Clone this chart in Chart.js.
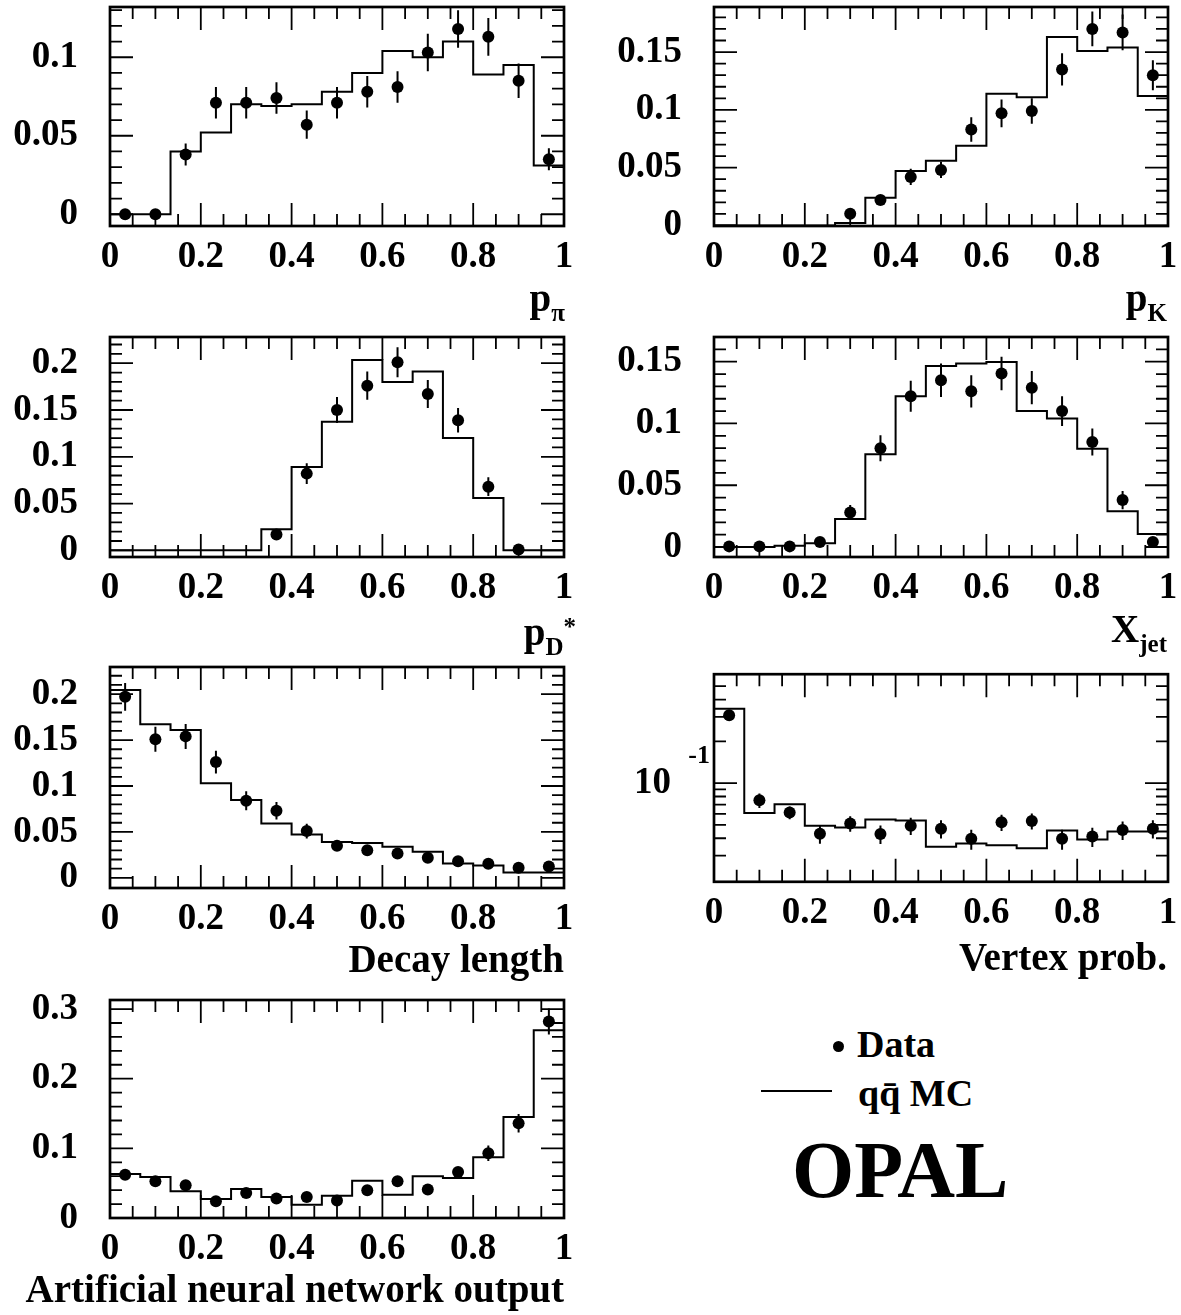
<!DOCTYPE html>
<html>
<head>
<meta charset="utf-8">
<script src="https://cdn.jsdelivr.net/npm/chart.js@4.4.0/dist/chart.umd.min.js"></script>
<style>
  html, body { margin: 0; padding: 0; background: #fff; }
  #page { position: relative; width: 1181px; height: 1315px; overflow: hidden; background: #fff; }
  .panel { position: absolute; }
  .t { position: absolute; font: bold 39px "Liberation Serif", "Times New Roman", serif; line-height: 39px; white-space: nowrap; color: #000; }
  .sb { font-size: 25px; position: relative; top: 10px; }
  .sp { font-size: 25px; position: relative; top: -10px; }
  .dot { position: absolute; width: 11px; height: 11px; border-radius: 50%; background: #000; }
  .bar { position: absolute; height: 2px; background: #000; }
</style>
</head>
<body>
<div id="page"></div>
<script>
// 15 equal bins on [0,1] for every distribution
const nBins = 15;
const binEdges = Array.from({ length: nBins + 1 }, (_, i) => i / nBins);
const binCenters = binEdges.slice(0, nBins).map(e => e + 0.5 / nBins);

const xTicks = [0, 0.2, 0.4, 0.6, 0.8, 1];

// p_pi
const ppiData = [0.000, 0.000, 0.038, 0.071, 0.071, 0.074, 0.057, 0.071, 0.078, 0.081, 0.103, 0.118, 0.113, 0.085, 0.035];
const ppiErr  = [0.003, 0.003, 0.007, 0.010, 0.010, 0.010, 0.009, 0.010, 0.010, 0.010, 0.012, 0.012, 0.012, 0.011, 0.007];
const ppiMC   = [0, 0, 0.040, 0.052, 0.070, 0.069, 0.070, 0.078, 0.090, 0.104, 0.100, 0.110, 0.089, 0.095, 0.031];

// p_K
const pKData = [null, null, null, null, 0.010, 0.022, 0.042, 0.048, 0.083, 0.097, 0.099, 0.135, 0.170, 0.167, 0.130];
const pKErr  = [0, 0, 0, 0, 0.005, 0.004, 0.007, 0.007, 0.0105, 0.012, 0.011, 0.014, 0.015, 0.0155, 0.013];
const pKMC   = [0, 0, 0, 0, 0.002, 0.024, 0.047, 0.056, 0.069, 0.114, 0.111, 0.163, 0.151, 0.154, 0.112];

// p_D*
const pDData = [null, null, null, null, null, 0.017, 0.082, 0.150, 0.176, 0.201, 0.167, 0.139, 0.068, 0.001, null];
const pDErr  = [0, 0, 0, 0, 0, 0.004, 0.011, 0.014, 0.015, 0.016, 0.015, 0.013, 0.010, 0.002, 0];
const pDMC   = [0, 0, 0, 0, 0, 0.0225, 0.089, 0.1375, 0.2035, 0.180, 0.191, 0.120, 0.056, 0, 0];

// X_jet
const xjetData = [0.0005, 0.0005, 0.0005, 0.004, 0.028, 0.080, 0.122, 0.135, 0.126, 0.1405, 0.129, 0.110, 0.085, 0.038, 0.004];
const xjetErr  = [0.002, 0.002, 0.002, 0.003, 0.006, 0.0105, 0.0125, 0.0136, 0.013, 0.0136, 0.0134, 0.012, 0.011, 0.0074, 0.002];
const xjetMC   = [0, 0, 0.001, 0.003, 0.0227, 0.075, 0.122, 0.1465, 0.1486, 0.1497, 0.110, 0.104, 0.0795, 0.029, 0.0105];

// decay length
const decayData = [0.197, 0.151, 0.154, 0.126, 0.084, 0.073, 0.051, 0.035, 0.030, 0.0265, 0.022, 0.018, 0.0155, 0.011, 0.0125];
const decayErr  = [0.015, 0.0136, 0.0136, 0.0124, 0.0104, 0.0095, 0.008, 0.004, 0.004, 0.004, 0.004, 0.003, 0.003, 0.003, 0.003];
const decayMC   = [0.2045, 0.1673, 0.161, 0.103, 0.0847, 0.0593, 0.0473, 0.039, 0.038, 0.034, 0.0284, 0.0156, 0.0135, 0.006, 0.006];

// vertex prob (log y)
const vtxData = [0.309, 0.0751, 0.0614, 0.0431, 0.0511, 0.0429, 0.0492, 0.0469, 0.0396, 0.0521, 0.0532, 0.0396, 0.0411, 0.0459, 0.0469];
const vtxErr  = [0.01, 0.009, 0.0065, 0.0066, 0.0065, 0.0065, 0.007, 0.007, 0.0065, 0.007, 0.007, 0.0065, 0.0065, 0.007, 0.007];
const vtxMC   = [0.343, 0.0608, 0.0702, 0.0492, 0.0479, 0.0547, 0.0538, 0.0347, 0.0366, 0.0356, 0.0338, 0.0455, 0.0392, 0.0448, 0.0448];

// neural network output
const annData = [0.062, 0.0526, 0.047, 0.024, 0.036, 0.028, 0.030, 0.025, 0.040, 0.0526, 0.041, 0.066, 0.093, 0.136, 0.282];
const annErr  = [0.006, 0.005, 0.005, 0.005, 0.005, 0.005, 0.005, 0.005, 0.005, 0.005, 0.005, 0.006, 0.011, 0.0134, 0.0187];
const annMC   = [0.0632, 0.0589, 0.0383, 0.0273, 0.0416, 0.0301, 0.0191, 0.0321, 0.0536, 0.0335, 0.0598, 0.0574, 0.0871, 0.145, 0.2694];

const yTicks05 = [0, 0.05, 0.1, 0.15, 0.2];
const yTicks10 = [0, 0.1, 0.2, 0.3];
const vtxTicks = [0.1];

function steps(a, b, s) {
  const out = [];
  for (let v = a; v <= b + 1e-9; v += s) out.push(Math.round(v * 1000) / 1000);
  return out;
}
const xMinor = steps(0, 1, 0.05);

const Y_AXIS_W = 120, PAD_TOP = 60, PAD_RIGHT = 40, X_AXIS_H = 60;
const tickFont = { family: '"Liberation Serif", "Times New Roman", serif', weight: 'bold', size: 37 };

// frame [left, right, top, bottom] in page pixels
const panels = [
  { frame: [110, 564, 7, 226], data: ppiData, err: ppiErr, mc: ppiMC, ymin: -0.0075, ymax: 0.132, yt: [0, 0.05, 0.1], minor: steps(0, 0.13, 0.01) },
  { frame: [714, 1168, 7, 226], data: pKData, err: pKErr, mc: pKMC, ymin: -0.0005, ymax: 0.189, yt: [0, 0.05, 0.1, 0.15], minor: steps(0, 0.18, 0.01) },
  { frame: [110, 564, 337, 557], data: pDData, err: pDErr, mc: pDMC, ymin: -0.0071, ymax: 0.228, yt: yTicks05, minor: steps(0, 0.22, 0.01) },
  { frame: [714, 1168, 337, 557], data: xjetData, err: xjetErr, mc: xjetMC, ymin: -0.0081, ymax: 0.170, yt: [0, 0.05, 0.1, 0.15], minor: steps(0, 0.16, 0.01) },
  { frame: [110, 564, 667, 888], data: decayData, err: decayErr, mc: decayMC, ymin: -0.011, ymax: 0.2295, yt: yTicks05, minor: steps(0, 0.22, 0.01) },
  { frame: [714, 1168, 669, 887], data: vtxData, err: vtxErr, mc: vtxMC, ymin: 0.0194, ymax: 0.61, yt: vtxTicks, log: true,
    minor: [0.03, 0.04, 0.05, 0.06, 0.07, 0.08, 0.09, 0.2, 0.3, 0.4, 0.5] },
  { frame: [110, 564, 1000, 1218], data: annData, err: annErr, mc: annMC, ymin: 0, ymax: 0.313, yt: yTicks10, minor: steps(0, 0.3, 0.02) }
];

const frameTicks = {
  id: 'frameTicks',
  afterDatasetsDraw(chart, args, o) {
    const { ctx, chartArea: a, scales: { x, y } } = chart;
    ctx.save();
    ctx.strokeStyle = '#000';
    ctx.fillStyle = '#000';

    // error bars
    ctx.lineWidth = 2;
    ctx.beginPath();
    o.data.forEach((v, i) => {
      if (v == null || !o.err[i]) return;
      const px = x.getPixelForValue(binCenters[i]);
      const lo = Math.max(v - o.err[i], o.log ? 1e-4 : -1);
      ctx.moveTo(px, y.getPixelForValue(lo));
      ctx.lineTo(px, y.getPixelForValue(v + o.err[i]));
    });
    ctx.stroke();

    // inward ticks on all four sides
    ctx.lineWidth = 1.8;
    ctx.beginPath();
    xMinor.forEach(v => {
      const px = x.getPixelForValue(v);
      const len = xTicks.some(t => Math.abs(t - v) < 1e-6) ? 23 : 12;
      ctx.moveTo(px, a.bottom); ctx.lineTo(px, a.bottom - len);
      ctx.moveTo(px, a.top); ctx.lineTo(px, a.top + len);
    });
    const yAll = o.minor.concat(o.yt);
    yAll.forEach(v => {
      if (v < o.ymin || v > o.ymax) return;
      const py = y.getPixelForValue(v);
      const len = o.yt.some(t => Math.abs(t - v) < 1e-6) ? 23 : 12;
      ctx.moveTo(a.left, py); ctx.lineTo(a.left + len, py);
      ctx.moveTo(a.right, py); ctx.lineTo(a.right - len, py);
    });
    ctx.stroke();

    // frame
    ctx.lineWidth = 2.7;
    ctx.strokeRect(a.left, a.top, a.width, a.height);

    // exponent of the log label 10^-1
    if (o.log) {
      ctx.font = 'bold 26px "Liberation Serif", serif';
      ctx.textAlign = 'right';
      ctx.textBaseline = 'middle';
      ctx.fillText('-1', a.left - 4, y.getPixelForValue(0.1) - 27);
    }
    ctx.restore();
  }
};

const page = document.getElementById('page');

panels.forEach(p => {
  const plotW = p.frame[1] - p.frame[0], plotH = p.frame[3] - p.frame[2];
  const w = Y_AXIS_W + plotW + PAD_RIGHT, h = PAD_TOP + plotH + X_AXIS_H;
  const div = document.createElement('div');
  div.className = 'panel';
  div.style.left = (p.frame[0] - Y_AXIS_W) + 'px';
  div.style.top = (p.frame[2] - PAD_TOP) + 'px';
  const canvas = document.createElement('canvas');
  canvas.width = w; canvas.height = h;
  canvas.style.width = w + 'px'; canvas.style.height = h + 'px';
  div.appendChild(canvas);
  page.appendChild(div);

  const mcPts = binEdges.map((e, i) => ({ x: e, y: p.mc[Math.min(i, nBins - 1)] }));
  const dataPts = [];
  p.data.forEach((v, i) => { if (v != null) dataPts.push({ x: binCenters[i], y: v }); });

  new Chart(canvas, {
    type: 'scatter',
    data: {
      datasets: [
        { type: 'line', data: mcPts, stepped: 'before', borderColor: '#000', borderWidth: 2,
          pointRadius: 0, fill: false, order: 2 },
        { data: dataPts, pointRadius: 6, pointBorderWidth: 0, backgroundColor: '#000',
          borderColor: '#000', order: 1 }
      ]
    },
    options: {
      responsive: false,
      animation: false,
      events: [],
      layout: { padding: { top: PAD_TOP, right: PAD_RIGHT, left: 0, bottom: 0 } },
      plugins: {
        legend: { display: false },
        tooltip: { enabled: false },
        frameTicks: { data: p.data, err: p.err, yt: p.yt, minor: p.minor, ymin: p.ymin, ymax: p.ymax, log: !!p.log }
      },
      scales: {
        x: {
          type: 'linear', min: 0, max: 1,
          grid: { display: false, drawTicks: false }, border: { display: false },
          afterBuildTicks: s => { s.ticks = xTicks.map(v => ({ value: v })); },
          afterFit: s => { s.height = X_AXIS_H; },
          ticks: { font: tickFont, color: '#000', padding: 9, autoSkip: false, maxRotation: 0,
                   callback: v => String(v) }
        },
        y: {
          type: p.log ? 'logarithmic' : 'linear', min: p.ymin, max: p.ymax,
          grid: { display: false, drawTicks: false }, border: { display: false },
          afterBuildTicks: s => { s.ticks = p.yt.map(v => ({ value: v })); },
          afterFit: s => { s.width = Y_AXIS_W; },
          ticks: { font: tickFont, color: '#000', padding: p.log ? 43 : 32, autoSkip: false,
                   callback: v => p.log ? '10' : String(v) }
        }
      }
    },
    plugins: [frameTicks]
  });
});

// axis titles and legend
const texts = [
  { html: 'p<span class="sb">π</span>', right: 565, base: 311 },
  { html: 'p<span class="sb">K</span>', right: 1167, base: 311 },
  { html: 'p<span class="sb">D</span><span class="sp">*</span>', right: 576, base: 645 },
  { html: 'X<span class="sb">jet</span>', right: 1167, base: 642 },
  { html: 'Decay length', right: 564, base: 972 },
  { html: 'Vertex prob.', right: 1167, base: 970 },
  { html: 'Artificial neural network output', right: 564, base: 1302 }
];
texts.forEach(t => {
  const d = document.createElement('div');
  d.className = 't';
  d.innerHTML = t.html;
  d.style.right = (1181 - t.right) + 'px';
  d.style.top = (t.base - 33) + 'px';
  page.appendChild(d);
});

function addText(txt, left, base, size) {
  const d = document.createElement('div');
  d.className = 't';
  d.textContent = txt;
  d.style.fontSize = size + 'px';
  d.style.lineHeight = size + 'px';
  d.style.left = left + 'px';
  d.style.top = (base - Math.round(size * 0.84)) + 'px';
  page.appendChild(d);
}
const dot = document.createElement('div');
dot.className = 'dot';
dot.style.left = '833px'; dot.style.top = '1041px';
page.appendChild(dot);
const bar = document.createElement('div');
bar.className = 'bar';
bar.style.left = '761px'; bar.style.top = '1090px'; bar.style.width = '71px';
page.appendChild(bar);
addText('Data', 857, 1057, 38);
addText('qq\u0304 MC', 858, 1106, 38);
addText('OPAL', 792, 1197, 80);
</script>
</body>
</html>
